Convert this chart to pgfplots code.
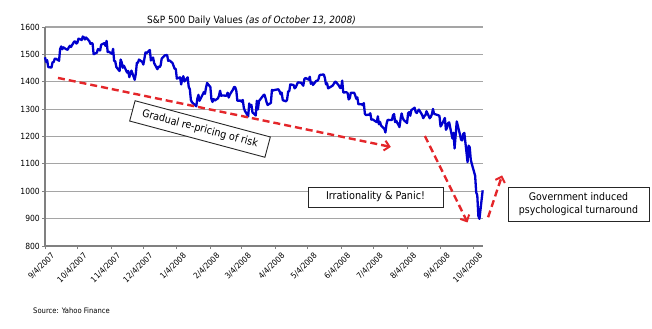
\documentclass[border=0pt]{standalone}
\usepackage{pgfplots}
\pgfplotsset{compat=1.18}
\usepackage{fontspec}
\setmainfont{DejaVu Sans Condensed}
\usetikzlibrary{arrows.meta}
\definecolor{spblue}{RGB}{0,0,205}
\definecolor{arrred}{RGB}{228,38,42}
\definecolor{gridgray}{RGB}{165,165,165}
\definecolor{axgray}{RGB}{128,128,128}
\begin{document}
\begin{tikzpicture}[x=1bp,y=1bp]
\useasboundingbox (0,0) rectangle (652,328);
\begin{axis}[
  at={(45bp,82bp)}, anchor=south west,
  width=438bp, height=219bp, scale only axis,
  xmin=0, xmax=405.3, ymin=800, ymax=1600,
  clip=false,
  axis x line*=bottom, axis y line*=left,
  axis line style={axgray, line width=1.8bp, -},
  ytick={800,900,...,1600},
  ymajorgrids, grid style={gridgray, line width=1.1bp},
  xtick={0,30,61,91,122,153,182,213,243,274,304,335,366,396},
  xticklabels={9/4/2007,10/4/2007,11/4/2007,12/4/2007,1/4/2008,2/4/2008,3/4/2008,4/4/2008,5/4/2008,6/4/2008,7/4/2008,8/4/2008,9/4/2008,10/4/2008},
  x tick label style={rotate=45, anchor=north east, font=\fontsize{8.2}{9}\selectfont, inner sep=0bp, yshift=-6bp, xshift=2bp},
  y tick label style={font=\fontsize{8.5}{9}\selectfont, inner sep=2bp},
  tick align=outside, major tick length=3bp,
  tick style={axgray, line width=0.8bp},
  /pgf/number format/assume math mode=true,
  /pgf/number format/1000 sep={},
]
\addplot[spblue, line width=2.3bp, line join=round] coordinates {
(0,1489.4)(1,1472.3)(2,1478.6)(3,1453.6)(6,1451.7)(7,1471.5)(8,1471.6)(9,1483.9)(10,1484.3)(13,1476.7)
(14,1519.8)(15,1529.0)(16,1518.8)(17,1525.8)(20,1517.7)(21,1517.2)(22,1525.4)(23,1531.4)(24,1526.8)
(27,1547.0)(28,1546.6)(29,1539.6)(30,1542.8)(31,1557.6)(34,1552.6)(35,1565.2)(36,1562.5)(37,1554.4)(38,1561.8)
(41,1548.7)(42,1538.5)(43,1541.2)(44,1540.1)(45,1500.6)(48,1506.3)(49,1519.6)(50,1515.9)(51,1514.4)(52,1535.3)
(55,1541.0)(56,1531.0)(57,1549.4)(58,1508.4)(59,1509.7)(62,1502.2)(63,1520.3)(64,1475.6)(65,1474.8)(66,1453.7)
(69,1439.2)(70,1481.1)(71,1470.6)(72,1451.2)(73,1458.7)(76,1433.3)(77,1439.7)(78,1416.8)(80,1440.7)
(83,1407.2)(84,1428.2)(85,1469.0)(86,1469.7)(87,1481.1)(90,1472.4)(91,1462.8)(92,1485.0)(93,1507.3)(94,1504.7)
(97,1516.0)(98,1477.7)(99,1486.6)(100,1488.4)(101,1468.0)(104,1445.9)(105,1455.0)(106,1453.0)(107,1460.1)(108,1484.5)
(111,1496.5)(113,1497.7)(114,1476.3)(115,1478.5)(118,1468.4)(120,1447.2)(121,1447.2)(122,1411.6)
(125,1416.2)(126,1390.2)(127,1409.1)(128,1420.3)(129,1401.0)(132,1416.3)(133,1381.0)(134,1373.2)(135,1333.3)(136,1325.2)
(140,1310.5)(141,1338.6)(142,1352.1)(143,1330.6)(146,1354.0)(147,1362.3)(148,1355.8)(149,1378.6)(150,1395.4)
(153,1380.8)(154,1336.6)(155,1326.5)(156,1336.9)(157,1331.3)(160,1339.1)(161,1348.9)(162,1367.2)(163,1348.9)(164,1350.0)
(168,1348.8)(169,1360.0)(170,1342.5)(171,1353.1)(174,1371.8)(175,1381.3)(176,1380.0)(177,1367.7)(178,1330.6)
(181,1331.3)(182,1326.8)(183,1333.7)(184,1304.3)(185,1293.4)(188,1273.4)(189,1320.7)(190,1308.8)(191,1315.5)(192,1288.1)
(195,1276.6)(196,1330.7)(197,1298.4)(198,1329.5)(202,1349.9)(203,1353.0)(204,1341.1)(205,1325.8)(206,1315.2)
(209,1322.7)(210,1370.2)(211,1367.5)(212,1369.3)(213,1370.4)(216,1372.5)(217,1365.5)(218,1354.5)(219,1360.6)(220,1332.8)
(223,1328.3)(224,1334.4)(225,1364.7)(226,1365.6)(227,1390.3)(230,1388.2)(231,1375.9)(232,1379.9)(233,1388.8)(234,1397.8)
(237,1396.4)(238,1390.9)(239,1385.6)(240,1409.3)(241,1413.9)(244,1407.5)(245,1418.3)(246,1392.6)(247,1397.7)(248,1388.3)
(251,1403.6)(252,1403.0)(253,1408.7)(254,1423.6)(255,1425.4)(258,1426.6)(259,1413.4)(260,1390.7)(261,1394.4)(262,1375.9)
(266,1385.4)(267,1390.8)(268,1398.3)(269,1400.4)(272,1385.7)(273,1377.6)(274,1377.2)(275,1404.1)(276,1360.7)
(279,1361.8)(280,1358.4)(281,1335.5)(282,1339.9)(283,1360.0)(286,1360.1)(287,1350.9)(288,1337.8)(289,1342.8)(290,1317.9)
(293,1318.0)(294,1314.3)(295,1322.0)(296,1283.2)(297,1278.4)(300,1280.0)(301,1284.9)(302,1261.5)(303,1262.9)
(307,1252.3)(308,1273.7)(309,1244.7)(310,1253.4)(311,1239.5)(314,1228.3)(315,1214.9)(316,1245.4)(317,1260.3)(318,1260.7)
(321,1260.0)(322,1277.0)(323,1282.2)(324,1252.5)(325,1257.8)(328,1234.4)(329,1263.2)(330,1284.3)(331,1267.4)(332,1260.3)
(335,1249.0)(336,1284.9)(337,1289.2)(338,1275.9)(339,1296.3)(342,1305.3)(343,1289.6)(344,1285.8)(345,1292.9)(346,1298.2)
(349,1278.6)(350,1267.0)(351,1274.5)(352,1277.7)(353,1292.2)(356,1266.8)(357,1271.5)(358,1281.7)(359,1300.7)(360,1282.8)
(364,1277.6)(365,1275.0)(366,1236.8)(367,1242.3)(370,1267.8)(371,1224.5)(372,1232.0)(373,1249.1)(374,1251.7)
(377,1192.7)(378,1213.6)(379,1156.4)(380,1206.5)(381,1255.1)(384,1207.1)(385,1188.2)(386,1185.9)(387,1209.2)(388,1213.3)
(391,1106.4)(392,1166.4)(393,1161.1)(394,1114.3)(395,1099.2)(398,1056.9)(399,996.2)(400,984.9)(401,909.9)(402,899.2)
(405,1003.4)
};
% annotation arrows
\draw[arrred, line width=2.4bp, dash pattern=on 7bp off 4bp, -{Straight Barb[length=5bp,width=10bp,line width=2bp]}]
  (axis cs:12,1414) -- (axis cs:320,1162);
\draw[arrred, line width=2.4bp, dash pattern=on 7bp off 4bp, -{Straight Barb[length=5bp,width=10bp,line width=2bp]}]
  (axis cs:351.5,1202) -- (axis cs:391,886);
\draw[arrred, line width=2.4bp, dash pattern=on 7bp off 4bp, -{Straight Barb[length=5bp,width=10bp,line width=2bp]}]
  (axis cs:410,905) -- (axis cs:423,1058);
\end{axis}
% title
\node[font=\fontsize{10}{11}\selectfont] at (251.5,307) {S\&P 500 Daily Values \textit{(as of October 13, 2008)}};
% boxes
\node[draw=black!85, line width=0.9bp, fill=white, rotate=-15, minimum width=140bp, minimum height=21bp, inner sep=1bp, font=\fontsize{10.7}{12}\selectfont] at (200,199) {Gradual re-pricing of risk};
\node[draw=black!85, line width=0.9bp, fill=white, minimum width=135bp, minimum height=20bp, inner sep=1bp, font=\fontsize{10.8}{12}\selectfont] at (375.5,131) {Irrationality \& Panic!};
\node[draw=black!85, line width=0.9bp, fill=white, minimum width=141bp, minimum height=34bp, inner sep=1bp, align=center, font=\fontsize{10.5}{13}\selectfont] at (578.5,124) {Government induced\\psychological turnaround};
% source
\node[anchor=west, font=\fontsize{7.6}{8}\selectfont, inner sep=0] at (33,17) {Source: Yahoo Finance};
\end{tikzpicture}
\end{document}
